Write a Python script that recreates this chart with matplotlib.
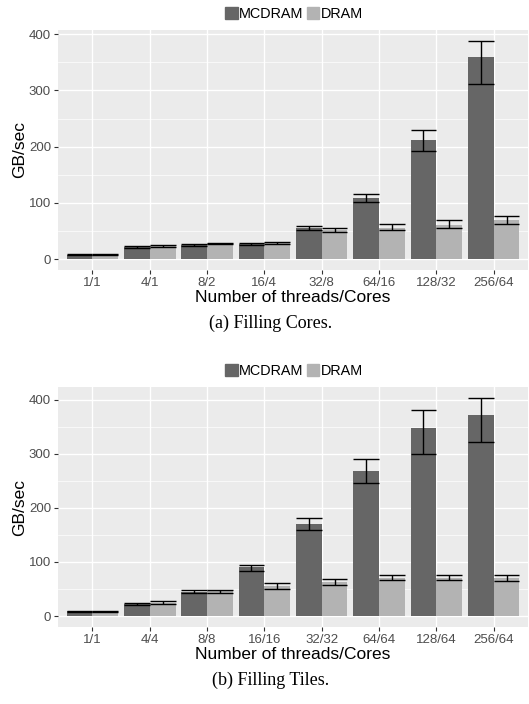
import matplotlib
matplotlib.use("Agg")
from matplotlib import pyplot as plt
from matplotlib.patches import Patch

# Donnees
labels_cores = ["1/1", "4/1", "8/2", "16/4", "32/8", "64/16", "128/32", "256/64"]
mcdram_cores = [8, 22, 25, 26, 55, 109, 212, 359]
mcdram_cores_lo = [7, 20, 23, 25, 52, 102, 192, 311]
mcdram_cores_hi = [9, 24, 27, 28, 58, 116, 229, 388]
dram_cores = [8, 24, 27, 29, 52, 55, 60, 70]
dram_cores_lo = [7, 22, 26, 27, 49, 52, 55, 63]
dram_cores_hi = [9, 25, 28, 30, 55, 62, 69, 77]

labels_tiles = ["1/1", "4/4", "8/8", "16/16", "32/32", "64/64", "128/64", "256/64"]
mcdram_tiles = [9, 23, 45, 90, 170, 268, 347, 371]
mcdram_tiles_lo = [8, 21, 43, 84, 159, 245, 299, 321]
mcdram_tiles_hi = [10, 25, 48, 95, 181, 290, 380, 403]
dram_tiles = [9, 25, 46, 56, 63, 71, 71, 70]
dram_tiles_lo = [8, 23, 43, 50, 57, 66, 67, 64]
dram_tiles_hi = [10, 27, 49, 62, 68, 76, 75, 76]

C_MC = "#666666"
C_DR = "#B3B3B3"
W, H = 529, 704


def px_axes(fig, left, top, right, bottom):
    return fig.add_axes([left / W, 1 - bottom / H, (right - left) / W, (bottom - top) / H])


def panel(fig, top, bottom, labels, mc, mc_lo, mc_hi, dr, dr_lo, dr_hi, caption):
    ax = px_axes(fig, 58, top, 528, bottom)
    n = len(labels)
    x = list(range(1, n + 1))
    bw = 0.45
    xm = [v - bw / 2 for v in x]
    xd = [v + bw / 2 for v in x]
    ax.bar(xm, mc, width=bw, color=C_MC, zorder=2)
    ax.bar(xd, dr, width=bw, color=C_DR, zorder=2)
    # barres d'erreur
    for xs, lo, hi in ((xm, mc_lo, mc_hi), (xd, dr_lo, dr_hi)):
        left = [v - bw / 2 for v in xs]
        right = [v + bw / 2 for v in xs]
        ax.vlines(xs, lo, hi, color="black", lw=1.0, zorder=3)
        ax.hlines(lo, left, right, color="black", lw=1.0, zorder=3)
        ax.hlines(hi, left, right, color="black", lw=1.0, zorder=3)

    ymax = max(mc_hi + dr_hi)
    pad = 0.05 * ymax
    ax.set_ylim(-pad, ymax + pad)
    ax.set_xlim(0.4, n + 0.6)

    ax.set_facecolor("#EBEBEB")
    for s in ax.spines.values():
        s.set_visible(False)
    ax.set_xticks(x)
    ax.set_xticklabels(labels)
    ax.set_yticks([0, 100, 200, 300, 400])
    ax.set_yticks([50, 150, 250, 350], minor=True)
    ax.tick_params(axis="both", which="major", colors="#333333", labelcolor="#4D4D4D",
                   labelsize=9.5, length=3, width=0.8, pad=2)
    ax.tick_params(axis="y", which="minor", length=0)
    ax.grid(True, which="major", color="white", lw=1.0, zorder=0)
    ax.grid(True, which="minor", axis="y", color="white", lw=0.5, zorder=0)
    ax.set_axisbelow(True)
    ax.set_ylabel("GB/sec", fontsize=12.5, labelpad=1)
    ax.set_xlabel("Number of threads/Cores", fontsize=12.5, labelpad=1)

    handles = [Patch(color=C_MC, label="MCDRAM"), Patch(color=C_DR, label="DRAM")]
    fig.legend(handles=handles, loc="center", bbox_to_anchor=(294 / W, 1 - (top - 16) / H),
               ncol=2, frameon=False, fontsize=10.4, handlelength=0.85, handleheight=0.85,
               handletextpad=0.12, columnspacing=0.2, borderpad=0)
    fig.text(271 / W, 1 - (bottom + 53) / H, caption, ha="center", va="center",
             family="Liberation Serif", fontsize=13)
    return ax


def main():
    plt.rcParams["font.family"] = ["Liberation Sans", "DejaVu Sans"]
    fig = plt.figure(figsize=(W / 100, H / 100), dpi=100)
    panel(fig, 30, 270, labels_cores, mcdram_cores, mcdram_cores_lo, mcdram_cores_hi,
          dram_cores, dram_cores_lo, dram_cores_hi, "(a) Filling Cores.")
    panel(fig, 387, 627, labels_tiles, mcdram_tiles, mcdram_tiles_lo, mcdram_tiles_hi,
          dram_tiles, dram_tiles_lo, dram_tiles_hi, "(b) Filling Tiles.")
    fig.savefig("out.png", dpi=100)
    return 0


if __name__ == "__main__":
    main()
